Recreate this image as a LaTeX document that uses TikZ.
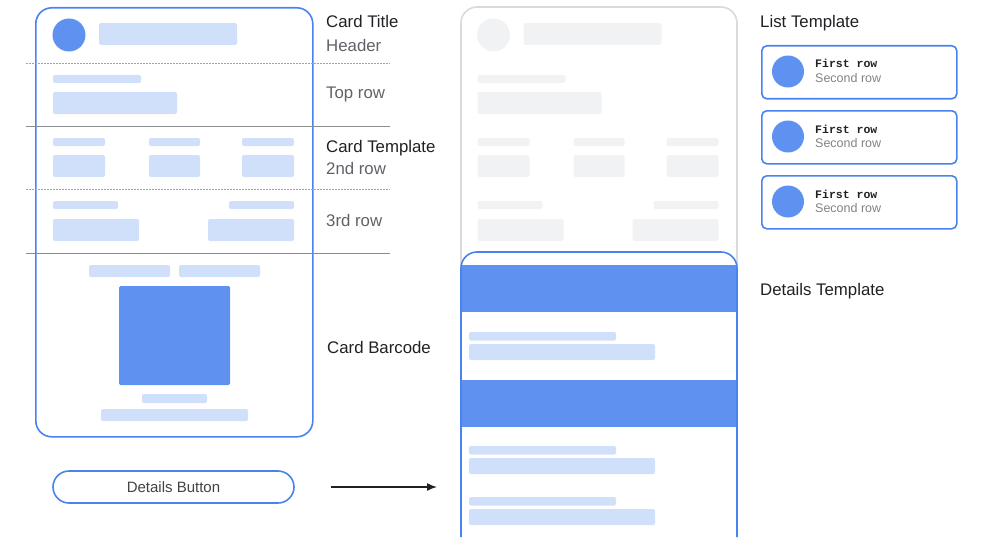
\documentclass[tikz,border=0pt]{standalone}
\usepackage{fontspec}
\setmainfont{Liberation Sans}
\newfontfamily\monofont{Liberation Mono}
\usetikzlibrary{arrows.meta}
\definecolor{cardblue}{HTML}{4A82EE}
\definecolor{barblue}{HTML}{D0E0FA}
\definecolor{solidblue}{HTML}{5E91F0}
\definecolor{ghost}{HTML}{F1F2F3}
\definecolor{ghostline}{HTML}{D9DADD}
\definecolor{ink}{HTML}{202124}
\definecolor{inkgray}{HTML}{5F6368}
\definecolor{rulegray}{HTML}{8A8D91}
\newcommand{\skeleton}{%
	\fill[dot] (69,35) circle (16.5);
	\fill[ph] (99,23) rectangle (237,45);
	\fill[ph] (53,75) rectangle (141,83);
	\fill[ph] (53,92) rectangle (177,114);
	\foreach \a/\b in {53/105,149/200,242/294}{
		\fill[ph] (\a,138) rectangle (\b,146);
		\fill[ph] (\a,155) rectangle (\b,177);
	}
	\fill[ph] (53,201) rectangle (118,209);
	\fill[ph] (229,201) rectangle (294,209);
	\fill[ph] (53,219) rectangle (139,241);
	\fill[ph] (208,219) rectangle (294,241);
}
\begin{document}
\begin{tikzpicture}[x=1pt,y=-1pt,
		ph/.style={fill=barblue,rounded corners=2pt},
		dot/.style={fill=solidblue},
		cardline/.style={draw=cardblue,line width=1.6pt},
		heading/.style={anchor=base west,inner sep=0,text=ink,font=\fontsize{16.8}{20}\selectfont},
		subheading/.style={heading,text=inkgray},
		listbox/.style={cardline,rounded corners=5pt,minimum width=195pt,minimum height=53pt,inner sep=0}]
	\useasboundingbox (0,0) rectangle (983,551);
	% front of the card
	\node[cardline,rounded corners=16pt,minimum width=277pt,minimum height=429pt,inner sep=0,anchor=north west]
		(front) at (35,7) {};
	\skeleton
	\draw[rulegray!80,line width=.8pt,dash pattern=on 1.5pt off 1.5pt] (26,63)--(390,63) (26,189)--(390,189);
	\draw[rulegray,line width=1pt] (26,126)--(390,126) (26,253)--(390,253);
	\fill[ph] (89,265) rectangle (170,277);
	\fill[ph] (179,265) rectangle (260,277);
	\fill[solidblue,rounded corners=1.5pt] (119,286) rectangle (230,385);
	\fill[ph] (142,394) rectangle (207,403);
	\fill[ph] (101,409) rectangle (248,421);
	\node[cardline,rounded corners=16pt,minimum width=241pt,minimum height=32pt,inner sep=0,
		text=ink!85,font=\fontsize{15}{18}\selectfont] (button) at (173.5,487) {Details Button};
	% labels
	\node[heading] (title) at (326,28) {Card Title};
	\node[subheading] (header) at (326,52) {Header};
	\node[subheading] (toprow) at (326,99) {Top row};
	\node[heading] (template) at (326,152) {Card Template};
	\node[subheading] (secondrow) at (326,174) {2nd row};
	\node[subheading] (thirdrow) at (326,226) {3rd row};
	\node[heading] (barcode) at (327,353) {Card Barcode};
	\coordinate (arrowfrom) at (331,487);
	\coordinate (arrowto) at (437,487);
	\draw[ink,line width=1.5pt,-{Latex[length=10pt,width=8pt]}] (arrowfrom)--(arrowto);
	% back of the card
	\draw[ghostline,line width=1.6pt,rounded corners=16pt] (461,537)--(461,7)--(737,7)--(737,537);
	\begin{scope}[xshift=424.5pt,ph/.style={fill=ghost,rounded corners=2pt},dot/.style={fill=ghost}]
		\skeleton
	\end{scope}
	\fill[white,rounded corners=16pt] (461,537)--(461,252)--(737,252)--(737,537);
	\fill[solidblue] (461,265) rectangle (737,312);
	\fill[solidblue] (461,380) rectangle (737,427);
	\foreach \y in {332,446,497}{
		\fill[ph] (469,\y) rectangle (616,\y+8.5);
		\fill[ph] (469,\y+12) rectangle (655,\y+28);
	}
	\draw[cardline,rounded corners=16pt] (461,537)--(461,252)--(737,252)--(737,537);
	\node[heading] (details) at (760,295) {Details Template};
	% list
	\node[heading] (list) at (760,28) {List Template};
	\foreach \i/\y in {1/45,2/110,3/175}{
		\node[listbox,anchor=north west] (item\i) at (761,\y) {};
		\fill[solidblue] (788,\y+26.5) circle (16);
		\node[anchor=base west,inner sep=0,text=ink,font=\monofont\bfseries\fontsize{11.5}{13}\selectfont]
			(first\i) at (815,\y+23) {First row};
		\node[anchor=base west,inner sep=0,text=inkgray!80,font=\fontsize{12.5}{14}\selectfont]
			(second\i) at (815,\y+37) {Second row};
	}
\end{tikzpicture}
\end{document}
